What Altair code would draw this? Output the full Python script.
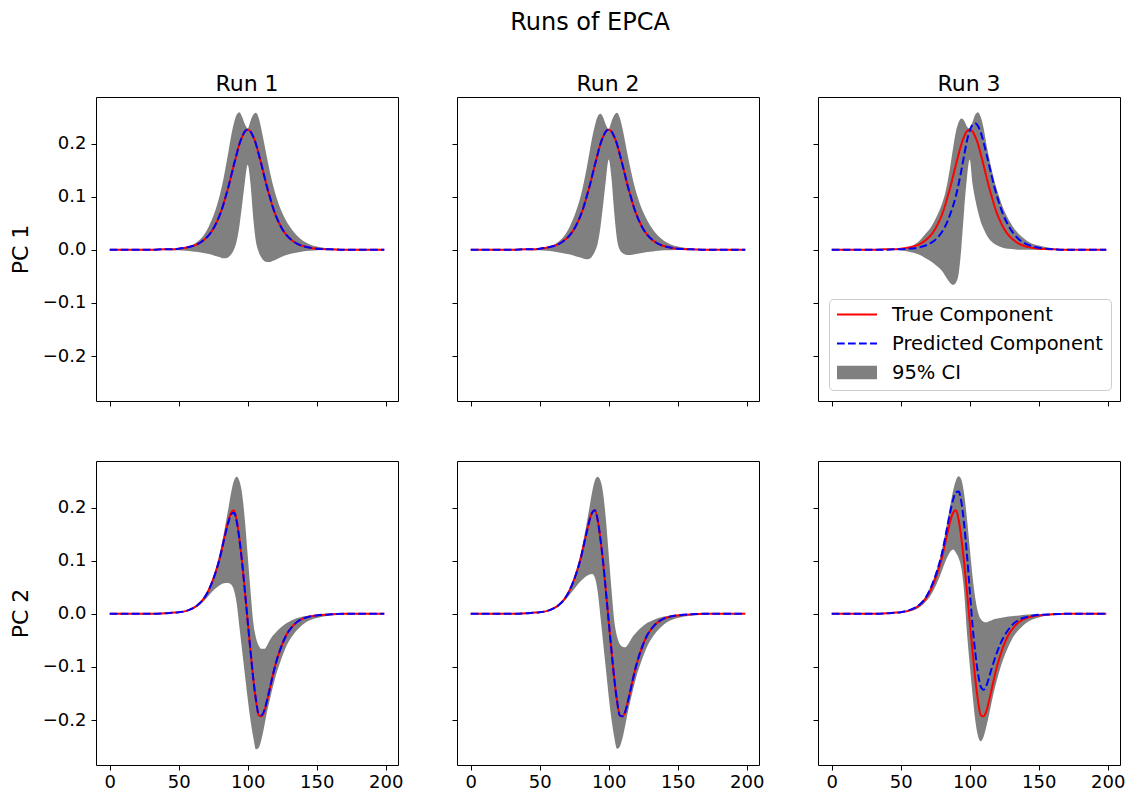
import altair as alt
import pandas as pd

# ---------------- data ----------------
X = [0, 10, 20, 30, 40, 45, 50, 55, 60, 64, 68, 72, 76, 80, 82, 84, 86, 88,
     90, 92, 94, 96, 98, 100, 102, 104, 106, 108, 110, 112, 114, 116, 118,
     120, 124, 128, 132, 136, 140, 145, 150, 160, 170, 180, 190, 199]

# True components
T1 = [0, 0, 0, 0, 0.001, 0.001, 0.002, 0.004, 0.007, 0.011, 0.018, 0.028, 0.044,
      0.067, 0.082, 0.100, 0.118, 0.139, 0.160, 0.180, 0.199, 0.213, 0.223, 0.226,
      0.223, 0.213, 0.199, 0.180, 0.160, 0.139, 0.118, 0.100, 0.082, 0.067, 0.044,
      0.028, 0.018, 0.011, 0.007, 0.004, 0.002, 0.001, 0, 0, 0, 0]
T2 = [0, 0, 0, 0, 0.001, 0.002, 0.003, 0.005, 0.010, 0.017, 0.028, 0.046, 0.072,
      0.107, 0.130, 0.153, 0.175, 0.190, 0.195, 0.177, 0.141, 0.096, 0.042, -0.014,
      -0.069, -0.121, -0.163, -0.191, -0.193, -0.184, -0.164, -0.141, -0.118, -0.097,
      -0.064, -0.040, -0.025, -0.015, -0.009, -0.005, -0.003, -0.001, 0, 0, 0, 0]

# Run 1 / PC 1
P1 = [0, 0, 0, 0, 0.001, 0.001, 0.002, 0.004, 0.007, 0.011, 0.018, 0.028, 0.044,
      0.067, 0.082, 0.100, 0.118, 0.139, 0.160, 0.180, 0.199, 0.213, 0.223, 0.226,
      0.223, 0.213, 0.199, 0.180, 0.160, 0.139, 0.118, 0.100, 0.082, 0.067, 0.044,
      0.028, 0.018, 0.011, 0.007, 0.004, 0.002, 0.001, 0, 0, 0, 0]
U1 = [0, 0, 0, 0, 0.001, 0.001, 0.002, 0.004, 0.009, 0.016, 0.027, 0.045, 0.070,
      0.105, 0.128, 0.155, 0.184, 0.214, 0.238, 0.254, 0.259, 0.250, 0.236, 0.228,
      0.242, 0.254, 0.258, 0.248, 0.226, 0.200, 0.173, 0.148, 0.125, 0.106, 0.076,
      0.054, 0.038, 0.026, 0.017, 0.010, 0.006, 0.002, 0.001, 0, 0, 0]
L1 = [0, 0, 0, 0, 0, -0.001, -0.001, -0.002, -0.003, -0.004, -0.006, -0.008, -0.011,
      -0.014, -0.016, -0.016, -0.014, -0.009, 0.000, 0.016, 0.045, 0.085, 0.128, 0.160,
      0.125, 0.060, 0.015, -0.004, -0.015, -0.021, -0.023, -0.023, -0.021, -0.019,
      -0.014, -0.010, -0.007, -0.005, -0.003, -0.002, -0.001, 0, 0, 0, 0, 0]

# Run 2 / PC 1
P2 = [0, 0, 0, 0, 0.001, 0.001, 0.002, 0.004, 0.007, 0.011, 0.018, 0.028, 0.044,
      0.067, 0.082, 0.100, 0.118, 0.139, 0.160, 0.180, 0.199, 0.213, 0.223, 0.226,
      0.223, 0.213, 0.199, 0.180, 0.160, 0.139, 0.118, 0.100, 0.082, 0.067, 0.044,
      0.028, 0.018, 0.011, 0.007, 0.004, 0.002, 0.001, 0, 0, 0, 0]
U2 = [0, 0, 0, 0, 0.001, 0.001, 0.002, 0.004, 0.009, 0.016, 0.027, 0.045, 0.070,
      0.104, 0.127, 0.153, 0.182, 0.211, 0.234, 0.251, 0.256, 0.249, 0.235, 0.227,
      0.241, 0.253, 0.258, 0.249, 0.228, 0.202, 0.175, 0.150, 0.127, 0.108, 0.077,
      0.055, 0.038, 0.026, 0.017, 0.010, 0.006, 0.002, 0.001, 0, 0, 0]
L2 = [0, 0, 0, 0, 0, -0.001, -0.001, -0.002, -0.003, -0.005, -0.007, -0.009, -0.012,
      -0.015, -0.017, -0.018, -0.017, -0.012, -0.003, 0.012, 0.042, 0.085, 0.132, 0.170,
      0.135, 0.070, 0.020, 0.000, -0.006, -0.009, -0.010, -0.010, -0.009, -0.008,
      -0.006, -0.004, -0.003, -0.002, -0.001, -0.001, 0, 0, 0, 0, 0, 0]

# Run 3 / PC 1
P3 = [0, 0, 0, 0, 0, 0.001, 0.001, 0.002, 0.003, 0.005, 0.008, 0.013, 0.021,
      0.034, 0.043, 0.054, 0.068, 0.083, 0.101, 0.124, 0.150, 0.178, 0.205, 0.224,
      0.235, 0.238, 0.233, 0.221, 0.203, 0.182, 0.160, 0.138, 0.117, 0.099, 0.068,
      0.046, 0.030, 0.019, 0.012, 0.007, 0.004, 0.001, 0, 0, 0, 0]
U3 = [0, 0, 0, 0, 0, 0.001, 0.002, 0.005, 0.010, 0.018, 0.030, 0.043, 0.062,
      0.087, 0.104, 0.128, 0.158, 0.192, 0.222, 0.240, 0.247, 0.243, 0.232, 0.228,
      0.240, 0.254, 0.259, 0.250, 0.230, 0.200, 0.174, 0.150, 0.129, 0.111, 0.080,
      0.058, 0.041, 0.029, 0.020, 0.012, 0.008, 0.003, 0.001, 0, 0, 0]
L3 = [0, 0, 0, 0, 0, 0, -0.001, -0.003, -0.006, -0.010, -0.016, -0.022, -0.030,
      -0.040, -0.048, -0.056, -0.063, -0.066, -0.062, -0.045, 0.005, 0.075, 0.135, 0.170,
      0.125, 0.095, 0.072, 0.053, 0.040, 0.029, 0.021, 0.015, 0.011, 0.008, 0.004,
      0.002, 0.001, 0, 0, 0, 0, 0, 0, 0, 0, 0]

# Run 1 / PC 2
P4 = [0, 0, 0, 0, 0.001, 0.002, 0.003, 0.005, 0.010, 0.017, 0.028, 0.046, 0.072,
      0.107, 0.130, 0.152, 0.172, 0.187, 0.190, 0.174, 0.140, 0.096, 0.042, -0.014,
      -0.069, -0.121, -0.162, -0.189, -0.191, -0.182, -0.163, -0.141, -0.118, -0.097,
      -0.064, -0.040, -0.025, -0.015, -0.009, -0.005, -0.003, -0.001, 0, 0, 0, 0]
U4 = [0, 0, 0, 0, 0.001, 0.002, 0.003, 0.005, 0.011, 0.018, 0.030, 0.050, 0.078,
      0.117, 0.142, 0.170, 0.198, 0.228, 0.250, 0.258, 0.250, 0.225, 0.175, 0.110,
      0.045, -0.015, -0.045, -0.060, -0.066, -0.066, -0.060, -0.050, -0.042, -0.036,
      -0.026, -0.018, -0.012, -0.008, -0.005, -0.003, -0.002, -0.001, 0, 0, 0, 0]
L4 = [0, 0, 0, 0, 0, 0.001, 0.002, 0.004, 0.008, 0.014, 0.023, 0.035, 0.046,
      0.054, 0.057, 0.058, 0.058, 0.055, 0.045, 0.020, -0.025, -0.070, -0.115, -0.160,
      -0.200, -0.232, -0.255, -0.252, -0.236, -0.212, -0.185, -0.162, -0.140, -0.120,
      -0.088, -0.061, -0.043, -0.030, -0.020, -0.012, -0.008, -0.003, -0.001, 0, 0, 0]

# Run 2 / PC 2
P5 = [0, 0, 0, 0, 0.001, 0.002, 0.003, 0.005, 0.010, 0.017, 0.028, 0.046, 0.072,
      0.107, 0.130, 0.153, 0.175, 0.190, 0.195, 0.177, 0.141, 0.096, 0.042, -0.014,
      -0.069, -0.121, -0.163, -0.191, -0.193, -0.184, -0.164, -0.141, -0.118, -0.097,
      -0.064, -0.040, -0.025, -0.015, -0.009, -0.005, -0.003, -0.001, 0, 0, 0, 0]
U5 = [0, 0, 0, 0, 0.001, 0.002, 0.003, 0.005, 0.011, 0.018, 0.030, 0.050, 0.078,
      0.117, 0.142, 0.170, 0.199, 0.229, 0.251, 0.258, 0.251, 0.226, 0.177, 0.112,
      0.047, -0.012, -0.042, -0.057, -0.062, -0.063, -0.058, -0.049, -0.041, -0.035,
      -0.025, -0.017, -0.012, -0.008, -0.005, -0.003, -0.002, -0.001, 0, 0, 0, 0]
L5 = [0, 0, 0, 0, 0, 0.001, 0.002, 0.004, 0.008, 0.014, 0.024, 0.037, 0.050,
      0.062, 0.067, 0.071, 0.074, 0.075, 0.068, 0.042, -0.005, -0.055, -0.105, -0.155,
      -0.198, -0.232, -0.254, -0.250, -0.234, -0.210, -0.184, -0.161, -0.139, -0.119,
      -0.087, -0.061, -0.043, -0.030, -0.020, -0.012, -0.008, -0.003, -0.001, 0, 0, 0]

# Run 3 / PC 2
P6 = [0, 0, 0, 0, 0.001, 0.002, 0.003, 0.006, 0.011, 0.018, 0.030, 0.050, 0.078,
      0.115, 0.140, 0.167, 0.193, 0.215, 0.229, 0.230, 0.210, 0.168, 0.112, 0.045,
      -0.020, -0.072, -0.112, -0.137, -0.143, -0.136, -0.120, -0.102, -0.086, -0.071,
      -0.047, -0.030, -0.018, -0.011, -0.007, -0.004, -0.002, -0.001, 0, 0, 0, 0]
U6 = [0, 0, 0, 0, 0.001, 0.002, 0.004, 0.007, 0.012, 0.020, 0.033, 0.054, 0.083,
      0.122, 0.148, 0.177, 0.205, 0.232, 0.251, 0.259, 0.252, 0.225, 0.180, 0.125,
      0.072, 0.030, 0.003, -0.010, -0.015, -0.016, -0.014, -0.012, -0.010, -0.009,
      -0.007, -0.005, -0.004, -0.003, -0.002, -0.001, -0.001, 0, 0, 0, 0, 0]
L6 = [0, 0, 0, 0, 0, 0.001, 0.002, 0.004, 0.007, 0.013, 0.022, 0.036, 0.056,
      0.082, 0.096, 0.108, 0.117, 0.121, 0.115, 0.105, 0.085, 0.040, -0.035, -0.095,
      -0.150, -0.200, -0.230, -0.240, -0.232, -0.213, -0.190, -0.165, -0.142, -0.122,
      -0.088, -0.062, -0.042, -0.029, -0.019, -0.011, -0.007, -0.002, -0.001, 0, 0, 0]

RUNS = ["Run 1", "Run 2", "Run 3"]
ROWS = ["PC 1", "PC 2"]
SERIES = ["True Component", "Predicted Component", "95% CI"]
XTICKS = [0, 50, 100, 150, 200]
YTICKS = [-0.2, -0.1, 0.0, 0.1, 0.2]

for arr in [T1, T2, P1, U1, L1, P2, U2, L2, P3, U3, L3, P4, U4, L4, P5, U5, L5, P6, U6, L6]:
    assert len(arr) == len(X), len(arr)

# ---------------- styling ----------------
FONT = "DejaVu Sans"
W, H = 302, 304
XDOM = [-9.95, 208.95]
YDOM = [-0.2845, 0.2875]
LW = 2
DASH = [7.7, 3.3]


def make_panel(true_v, pred_v, lo, hi, row, col, legend=False):
    xaxis = alt.Axis(values=XTICKS, format="d", labels=(row == 1), title=None, labelPadding=3)
    if col == 0:
        yaxis = alt.Axis(values=YTICKS, format=".1f", labels=True, title=ROWS[row])
    else:
        yaxis = alt.Axis(values=YTICKS, format=".1f", labels=False, title=None)
    xenc = alt.X("x:Q", scale=alt.Scale(domain=XDOM, nice=False, zero=False), axis=xaxis)
    yscale = alt.Scale(domain=YDOM, nice=False, zero=False)

    band_df = pd.DataFrame({"x": X, "lo": lo, "hi": hi})
    band = alt.Chart(band_df).mark_area(color="gray", opacity=1, interpolate="monotone").encode(
        x=xenc, y=alt.Y("lo:Q", scale=yscale, axis=yaxis), y2="hi:Q"
    )

    if legend:
        line_df = pd.DataFrame({
            "x": X + X,
            "v": list(true_v) + list(pred_v),
            "series": [SERIES[0]] * len(X) + [SERIES[1]] * len(X),
        })
        leg = alt.Legend(
            title=None, orient="none", legendX=733, legendY=202,
            symbolType="stroke", symbolSize=1600, clipHeight=15,
            labelFont=FONT, labelFontSize=19.5, labelColor="black", labelLimit=400,
            fillColor="white", strokeColor="#cccccc", cornerRadius=4,
            padding=8, rowPadding=9, symbolOffset=-7, labelOffset=8,
        )
        lines = alt.Chart(line_df).mark_line(interpolate="monotone").encode(
            x=xenc,
            y=alt.Y("v:Q", scale=yscale, axis=yaxis),
            color=alt.Color("series:N", scale=alt.Scale(domain=SERIES, range=["red", "blue", "gray"]), legend=leg),
            strokeDash=alt.StrokeDash("series:N", scale=alt.Scale(domain=SERIES, range=[[1, 0], DASH, [1, 0]]), legend=leg),
            strokeWidth=alt.StrokeWidth("series:N", scale=alt.Scale(type="ordinal", domain=SERIES, range=[LW, LW, 13.3]), legend=leg),
        )
        layers = [band, lines]
    else:
        tdf = pd.DataFrame({"x": X, "v": true_v})
        pdf = pd.DataFrame({"x": X, "v": pred_v})
        tl = alt.Chart(tdf).mark_line(color="red", strokeWidth=LW, interpolate="monotone").encode(
            x=xenc, y=alt.Y("v:Q", scale=yscale, axis=yaxis))
        pl = alt.Chart(pdf).mark_line(color="blue", strokeWidth=LW, strokeDash=DASH, interpolate="monotone").encode(
            x=xenc, y=alt.Y("v:Q", scale=yscale, axis=yaxis))
        layers = [band, tl, pl]

    props = dict(width=W, height=H)
    if row == 0:
        props["title"] = alt.TitleParams(RUNS[col], fontSize=22, font=FONT, fontWeight="normal",
                                         color="black", anchor="middle", offset=1)
    return alt.layer(*layers).properties(**props)


panels = [
    make_panel(T1, P1, L1, U1, 0, 0),
    make_panel(T1, P2, L2, U2, 0, 1),
    make_panel(T1, P3, L3, U3, 0, 2, legend=True),
    make_panel(T2, P4, L4, U4, 1, 0),
    make_panel(T2, P5, L5, U5, 1, 1),
    make_panel(T2, P6, L6, U6, 1, 2),
]

chart = alt.concat(
    *panels, columns=3, spacing={"row": 60, "column": 59}, bounds="flush"
).properties(
    title=alt.TitleParams("Runs of EPCA", fontSize=24, font=FONT, fontWeight="normal",
                          color="black", anchor="middle", offset=38, dx=23),
    padding={"left": 8, "top": 10, "right": 10, "bottom": 10},
).configure_view(
    stroke="black", strokeWidth=1
).configure_axis(
    domain=False, grid=False, ticks=True, tickColor="black", tickSize=5, tickWidth=1,
    labelFont=FONT, labelFontSize=18, labelColor="black", labelPadding=5,
    titleFont=FONT, titleFontSize=22, titleFontWeight="normal", titleColor="black",
    titlePadding=10,
).configure_title(
    font=FONT, color="black", fontWeight="normal"
)

chart.save("out.html", embed_options={"renderer": "svg", "actions": False})
